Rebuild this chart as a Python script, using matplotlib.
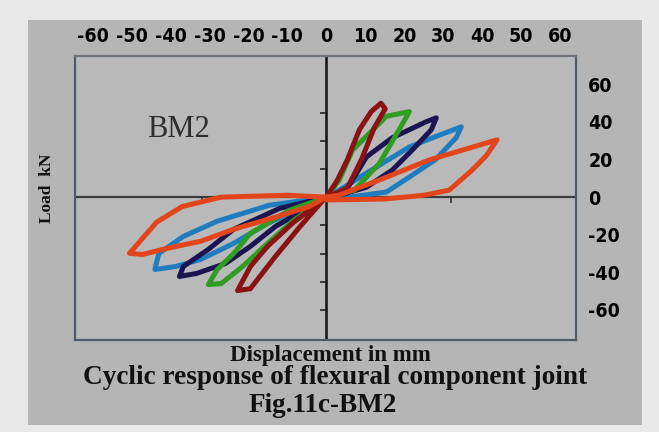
import matplotlib.pyplot as plt
import matplotlib.patches as mpatches
from matplotlib import font_manager

# hysteresis loops of BM2: displacement (mm) vs load (kN), one list pair per cycle
# each loop starts at the origin, goes round the positive leaf, then the negative one
blue_x = [0, 3.3, 10.3, 21.3, 29, 34.6, 33.3, 28, 21.3, 15.4, 5.9, 0,
          -14.6, -28, -36.7, -43, -44, -38.7, -32.3, -23.8, -15, 0]
blue_y = [0, 3.7, 12.8, 26.7, 33, 37.4, 31.6, 20, 10.7, 2.7, 0, 0,
          -4.3, -12.8, -20.9, -30, -38.5, -36.9, -33.2, -24.6, -13.9, 0]

navy_x = [0, 5.1, 10.3, 16.9, 25.6, 28.2, 26.9, 22, 16.9, 10.3, 3.3, 0,
          -12, -23.8, -30.3, -36.7, -37.7, -33.3, -25.9, -19.5, -13, 0]
navy_y = [0, 3.7, 21.4, 31.6, 40.1, 42.2, 35.8, 25, 14.4, 5.3, 1, 0,
          -6, -17.1, -27.8, -36.9, -42.2, -40.6, -35.3, -26.2, -15.5, 0]

green_x = [0, 3.3, 6.7, 15.4, 21.3, 18.7, 13.6, 7.2, 0,
           -9.5, -19.5, -23.8, -28, -30.3, -27, -21.5, -15.1, -8.7, 0]
green_y = [0, 9, 25, 43, 45.5, 36, 18, 3.7, 0,
           -7, -19.3, -30, -38.5, -46.5, -46, -36.9, -24.6, -12.8, 0]

maroon_x = [0, 2.8, 5.4, 8.5, 11.5, 14, 15.1, 12.3, 9, 5.4, 1, 0,
            -8.7, -15.1, -19.5, -22.8, -19.5, -13.1, -6.7, -1, 0]
maroon_y = [0, 9, 20, 36, 45.5, 50, 47, 37, 20, 5, 0.5, 0,
            -13.9, -26.2, -36.9, -49.7, -48.7, -31.6, -15.5, -2, 0]

red_x = [0, 15, 25, 31.5, 37.4, 41, 43.8, 26.4, 13.6, 3.3, 0,
         -10, -27, -37, -43.6, -50.5, -47.2, -41, -32.3, -23.8, -12, -4.4, 0]
red_y = [-1.5, -1, 1, 3.7, 14.4, 22, 30.5, 19.8, 9.1, 1.1, 0,
         1, 0, -5, -13.4, -29.9, -30.5, -27.3, -23.5, -17.1, -10, -5, 0]

loops = [
    (blue_x, blue_y, '#1f7cbf'),
    (navy_x, navy_y, '#1c1452'),
    (green_x, green_y, '#2f9c22'),
    (maroon_x, maroon_y, '#8a1212'),
    (red_x, red_y, '#e2441c'),
]

x_ticks = [-60, -50, -40, -30, -20, -10, 0, 10, 20, 30, 40, 50, 60]
y_ticks = [-60, -40, -20, 0, 20, 40, 60]
minor_y = [-60, -45, -30, -15, 15, 30, 45]
minor_x = [-32, 32]

fig = plt.figure(figsize=(6.59, 4.32), dpi=100)
fig.patch.set_facecolor('#e9e9e9')
# grey card behind the whole chart
fig.patches.append(mpatches.Rectangle((0.0425, 0.0162), 0.932, 0.9375,
                                      transform=fig.transFigure,
                                      facecolor='#b5b5b5', edgecolor='none',
                                      zorder=-1))

ax = fig.add_axes([0.1138, 0.213, 0.760, 0.657])
ax.set_zorder(2)
ax.set_facecolor('#b9b9b9')
ax.set_xlim(-64.5, 64)
ax.set_ylim(-76, 75)

ax.axvline(0, color='#111111', lw=1.8, zorder=2)
ax.axhline(0, color='#3c3c3c', lw=1.6, zorder=2)
# small ticks sitting on the zero lines
ax.hlines(minor_y, -1.6, 0, color='#222222', lw=1.2, zorder=2)
ax.vlines(minor_x, -3, 0, color='#333333', lw=1.2, zorder=2)

for xs, ys, c in loops:
    ax.plot(xs, ys, color=c, lw=3.6, solid_joinstyle='round',
            solid_capstyle='round', zorder=3)

for s in ax.spines.values():
    s.set_color('#4d5b6b')
    s.set_linewidth(1.6)
ax.spines['top'].set_color('#6e747a')

tick_font = font_manager.FontProperties(family='DejaVu Sans',
                                        stretch='condensed',
                                        weight='bold', size=14)
ax.xaxis.tick_top()
ax.set_xticks(x_ticks)
ax.set_xticklabels([str(v) for v in x_ticks], fontproperties=tick_font)
ax.tick_params(axis='x', length=0, pad=7)
ax.yaxis.tick_right()
ax.set_yticks(y_ticks)
ax.set_yticklabels([str(v) for v in y_ticks], fontproperties=tick_font)
ax.tick_params(axis='y', length=0, pad=9)

ax.text(-38, 36, 'BM2', family='Liberation Serif', size=22, color='#2e2e2e',
        ha='center', va='center')

serif = ['Liberation Serif', 'DejaVu Serif']
fig.text(0.072, 0.565, 'Load  kN', rotation=90, family=serif, weight='bold',
         size=12.5, ha='center', va='center', color='#111111')
fig.text(0.502, 0.178, 'Displacement in mm', family=serif, weight='bold',
         size=16.5, ha='center', va='center', color='#111111')
fig.text(0.508, 0.125, 'Cyclic response of flexural component joint',
         family=serif, weight='bold', size=19.6, ha='center', va='center',
         color='#111111')
fig.text(0.489, 0.062, 'Fig.11c-BM2', family=serif, weight='bold', size=19.5,
         ha='center', va='center', color='#111111')

fig.savefig('out.png', dpi=100)
